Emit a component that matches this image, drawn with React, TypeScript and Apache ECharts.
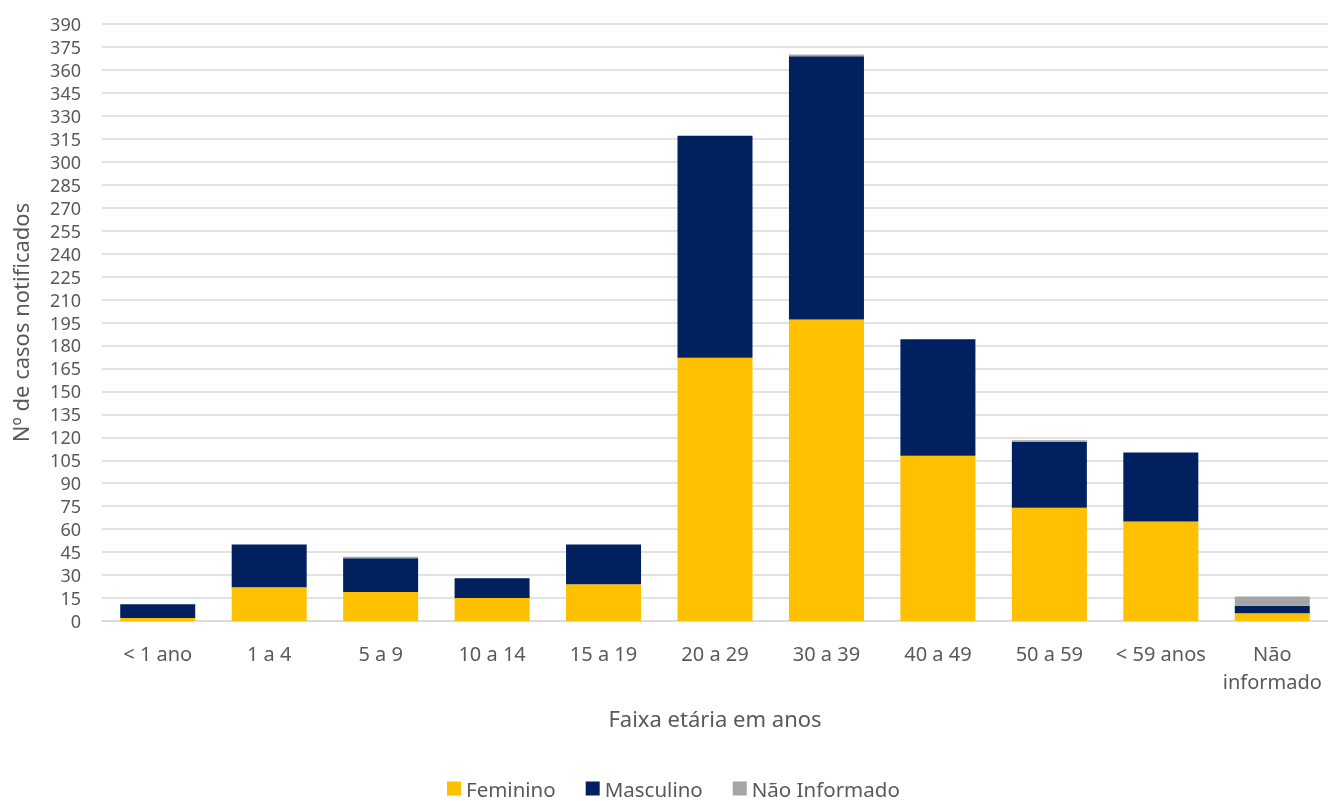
import React, { useEffect, useRef } from "react";
import * as echarts from "echarts";

const categories = ["< 1 ano", "1 a 4", "5 a 9", "10 a 14", "15 a 19", "20 a 29", "30 a 39", "40 a 49", "50 a 59", "< 59 anos", "Não\ninformado"];
const feminino = [2, 22, 19, 15, 24, 172, 197, 108, 74, 65, 5];
const masculino = [9, 28, 22, 13, 26, 145, 172, 76, 43, 45, 5];
const naoInformado = [0, 0, 1, 0, 0, 0, 1, 0, 1, 0, 6];

const FONT = "Noto Sans";
const TXT = "#595959";

export default function App() {
  const ref = useRef<HTMLDivElement>(null);
  useEffect(() => {
    const chart = echarts.init(ref.current!, null, { renderer: "svg" });
    const mk = (name: string, data: number[], color: string) => ({
      name,
      type: "bar",
      stack: "total",
      data,
      barWidth: 75,
      itemStyle: { color },
    });
    chart.setOption({
      animation: false,
      textStyle: { fontFamily: FONT },
      grid: { left: 102, right: -9, top: 24, bottom: 180 },
      legend: {
        top: 778,
        left: 447,
        padding: 0,
        itemWidth: 14,
        itemHeight: 14,
        itemGap: 30,
        icon: "rect",
        textStyle: { fontSize: 20.5, color: TXT, fontFamily: FONT, lineHeight: 20 },
        data: ["Feminino", "Masculino", "Não Informado"],
      },
      xAxis: {
        type: "category",
        data: categories,
        name: "Faixa etária em anos",
        nameLocation: "middle",
        nameGap: 86,
        nameTextStyle: { fontSize: 22, color: TXT, fontFamily: FONT },
        axisLine: { lineStyle: { color: "#d9d9d9", width: 1.5 } },
        axisTick: { show: false },
        axisLabel: { fontSize: 20, color: TXT, margin: 18, lineHeight: 28, interval: 0, fontFamily: FONT },
      },
      yAxis: {
        type: "value",
        min: 0,
        max: 390,
        interval: 15,
        name: "Nº de casos notificados",
        nameLocation: "middle",
        nameGap: 71,
        nameTextStyle: { fontSize: 22, color: TXT, fontFamily: FONT },
        axisLabel: { fontSize: 18, color: TXT, margin: 21, fontFamily: FONT },
        splitLine: { lineStyle: { color: "#d9d9d9", width: 1.5 } },
        axisLine: { show: false },
        axisTick: { show: false },
      },
      series: [
        mk("Feminino", feminino, "#FFC000"),
        mk("Masculino", masculino, "#002060"),
        mk("Não Informado", naoInformado, "#A5A5A5"),
      ],
    });
    return () => chart.dispose();
  }, []);
  return <div ref={ref} style={{ position: "fixed", left: 0, top: 0, width: 1328, height: 801 }} />;
}
